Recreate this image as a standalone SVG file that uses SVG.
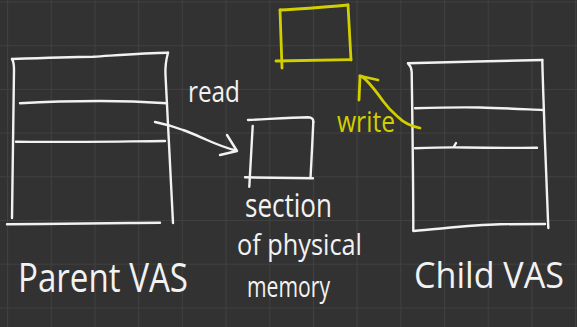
<svg xmlns="http://www.w3.org/2000/svg" width="577" height="327" viewBox="0 0 577 327">
  <defs>
    <pattern id="grid" patternUnits="userSpaceOnUse" x="7" y="1.5" width="43.7" height="43.7">
      <path d="M0,0 H43.7 M0,0 V43.7" fill="none" stroke="#404040" stroke-width="2.2"/>
    </pattern>
    <style>
      .ink { fill: none; stroke: #f2f2f2; stroke-width: 2.4; stroke-linecap: round; stroke-linejoin: round; }
      .hl { fill: none; stroke: #d2cf00; stroke-width: 2.8; stroke-linecap: round; stroke-linejoin: round; }
      .hand { font-family: "Open Sans", "DejaVu Sans", sans-serif; fill: #f2f2f2; }
      .hand-hl { font-family: "Open Sans", "DejaVu Sans", sans-serif; fill: #d2cf00; }
    </style>
  </defs>

  <!-- board background -->
  <rect width="577" height="327" fill="#323232"/>
  <rect width="577" height="327" fill="url(#grid)"/>

  <!-- parent address space -->
  <g id="parent-vas">
    <path class="ink" d="M12,59 C40,58 70,57 93,56.7 C120,55 145,53 168,52.7"/>
    <path class="ink" d="M12,59 C14,62 14,66 14,70 C13.5,120 13,170 12,218"/>
    <path class="ink" d="M168,52.7 C166,60 165,66 165.5,75 C167,110 170,160 173,223"/>
    <path class="ink" d="M7,224.3 C50,224 100,223.5 130,223 C140,222.7 150,222.7 160,222.7"/>
    <path class="ink" d="M20,103.3 C50,101.5 80,101 100,101 C125,101 140,101.5 167,103.3"/>
    <path class="ink" d="M16,141.7 C60,142.3 110,141.5 165,141"/>
    <text class="hand" x="18" y="292" font-size="40" textLength="170" lengthAdjust="spacingAndGlyphs">Parent VAS</text>
  </g>

  <!-- shared physical page -->
  <g id="physical-memory">
    <path class="ink" d="M248,120 C270,119 290,117.5 308,117.3 C312,117.5 313.5,119 313.3,122"/>
    <path class="ink" d="M313.3,122 C312.5,140 311.5,160 310.5,178"/>
    <path class="ink" d="M245,177.3 C270,177.8 295,178 313,178.3"/>
    <path class="ink" d="M252.7,126 C251.5,146 250.3,166 249.3,186.7"/>
    <text class="hand" x="245" y="217" font-size="32" textLength="87" lengthAdjust="spacingAndGlyphs">section</text>
    <text class="hand" x="237" y="255" font-size="29" textLength="125" lengthAdjust="spacingAndGlyphs">of physical</text>
    <text class="hand" x="247" y="297" font-size="30" textLength="83" lengthAdjust="spacingAndGlyphs">memory</text>
  </g>

  <!-- copied page after the write -->
  <g id="copied-page">
    <path class="hl" d="M280,10 C300,9 325,7 348,5"/>
    <path class="hl" d="M348,5 C349,24 350,42 351,60"/>
    <path class="hl" d="M276,61 C300,60.5 325,60 351,59.7"/>
    <path class="hl" d="M280,10 C280.7,30 281.3,50 282,68"/>
  </g>

  <!-- child address space -->
  <g id="child-vas">
    <path class="ink" d="M408,63.3 C450,62 500,61 542.3,60"/>
    <path class="ink" d="M408,63.3 C410.5,66 411.7,68 411.7,72 C412.5,130 413.3,180 413.3,230"/>
    <path class="ink" d="M542.3,60 C543,90 544,110 544.5,130 C546,170 547,200 548.3,228"/>
    <path class="ink" d="M413.3,231 C440,229 470,225 500,224.3 C520,224 535,224 545,224"/>
    <path class="ink" d="M415,108.3 C440,107.5 460,107 480,107.5 C500,108 520,109 543,110"/>
    <path class="ink" d="M415,148.3 C435,147.5 450,147 465,147.5 C490,148 515,148 537,147.7"/>
    <path class="ink" d="M454,146.5 L456,143"/>
    <text class="hand" x="414" y="288" font-size="36" textLength="150" lengthAdjust="spacingAndGlyphs">Child VAS</text>
  </g>

  <!-- read and write connectors -->
  <g id="connectors">
    <path class="ink" d="M155,122 C165,124 175,127 183,130 C192,133 200,137 207,140 C216,144 226,148 236,150.5"/>
    <path class="ink" d="M227,135 L237,151 L220,155"/>
    <text class="hand" x="188" y="102" font-size="30" textLength="52" lengthAdjust="spacingAndGlyphs">read</text>

    <path class="hl" d="M420,128 C410,126 402,121 398,117 C392,112 388,108 383,101 C378,94 372,86 366,80 C363,77 361,76 360,76"/>
    <path class="hl" d="M359,100 L360,76 L378,80"/>
    <text class="hand-hl" x="337" y="132" font-size="30" textLength="58" lengthAdjust="spacingAndGlyphs">write</text>
  </g>
</svg>
